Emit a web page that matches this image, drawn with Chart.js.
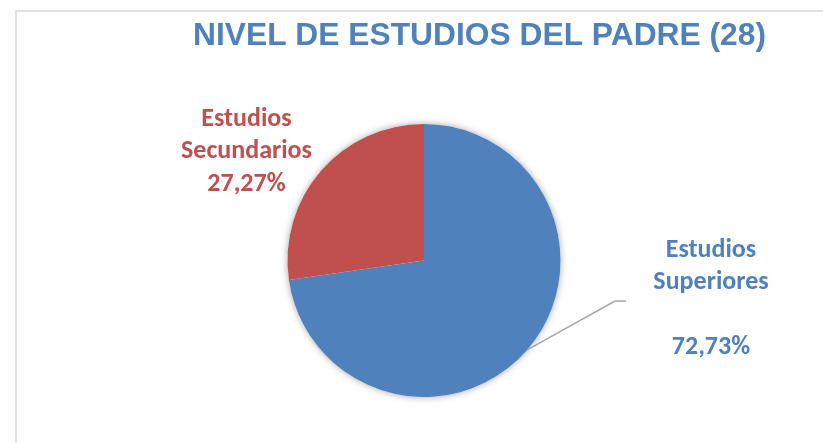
<!DOCTYPE html>
<html>
<head>
<meta charset="utf-8">
<script src="https://cdn.jsdelivr.net/npm/chart.js@4/dist/chart.umd.min.js"></script>
<style>
  html, body { margin: 0; padding: 0; background: #fff; }
  #wrap { width: 823px; height: 443px; }
</style>
</head>
<body>
<div id="wrap"><canvas id="PIE1"></canvas></div>
<script>
// data
const categories = ['Estudios Superiores', 'Estudios Secundarios'];
const percentages = [72.73, 27.27];
const sliceColors = ['#4F81BD', '#C0504D'];
const chartTitle = 'NIVEL DE ESTUDIOS DEL PADRE (28)';

const PIE1 = document.getElementById('PIE1').getContext('2d');
const labelFont = 'bold 26px Carlito, Lato, "Open Sans", sans-serif';
const titleFont = 'bold 32px "Liberation Sans", Arial, sans-serif';

function pct(v) {
    return v.toFixed(2).replace('.', ',') + '%';
}

// frame lines (top + left) like the Excel chart area
const framePlugin = {
    id: 'frame',
    beforeDraw(chart) {
        const ctx = chart.ctx;
        ctx.save();
        ctx.strokeStyle = '#D9D9D9';
        ctx.lineWidth = 1.5;
        ctx.beginPath();
        ctx.moveTo(823, 11);
        ctx.lineTo(16, 11);
        ctx.lineTo(16, 443);
        ctx.stroke();
        ctx.restore();
    }
};

// title, Arial Narrow look (squeezed Liberation Sans bold)
const titlePlugin = {
    id: 'narrowTitle',
    afterDraw(chart) {
        const ctx = chart.ctx;
        ctx.save();
        ctx.font = titleFont;
        ctx.fillStyle = '#4F81BD';
        ctx.textAlign = 'left';
        ctx.textBaseline = 'alphabetic';
        const w = ctx.measureText(chartTitle).width;
        const sx = 573 / w;
        ctx.translate(193, 45);
        ctx.scale(sx, 1);
        ctx.fillText(chartTitle, 0, 0);
        ctx.restore();
    }
};

// soft shadow behind the pie
const shadowPlugin = {
    id: 'pieShadow',
    beforeDatasetsDraw(chart) {
        const arc = chart.getDatasetMeta(0).data[0];
        const ctx = chart.ctx;
        ctx.save();
        ctx.shadowColor = 'rgba(0,0,0,0.35)';
        ctx.shadowBlur = 7;
        ctx.fillStyle = '#fff';
        ctx.beginPath();
        ctx.arc(arc.x, arc.y, arc.outerRadius, 0, Math.PI * 2);
        ctx.fill();
        ctx.restore();
    }
};

// labels outside the slices
const labelPlugin = {
    id: 'sliceLabels',
    afterDatasetsDraw(chart) {
        const ctx = chart.ctx;
        const meta = chart.getDatasetMeta(0);
        ctx.save();
        ctx.font = labelFont;
        ctx.textAlign = 'center';
        ctx.textBaseline = 'middle';

        // Estudios Superiores - with leader line
        const a0 = meta.data[0];
        const mid0 = (a0.startAngle + a0.endAngle) / 2;
        const sx = a0.x + a0.outerRadius * Math.cos(mid0);
        const sy = a0.y + a0.outerRadius * Math.sin(mid0);
        ctx.strokeStyle = '#A6A6A6';
        ctx.lineWidth = 1.5;
        ctx.beginPath();
        ctx.moveTo(sx, sy);
        ctx.lineTo(615, 301);
        ctx.lineTo(626, 301);
        ctx.stroke();

        const w0 = categories[0].split(' ');
        ctx.fillStyle = sliceColors[0];
        ctx.fillText(w0[0], 711, 250);
        ctx.fillText(w0[1], 711, 282.5);
        ctx.fillText(pct(percentages[0]), 711, 347.5);

        // Estudios Secundarios
        const w1 = categories[1].split(' ');
        ctx.fillStyle = sliceColors[1];
        ctx.fillText(w1[0], 246.5, 119);
        ctx.fillText(w1[1], 246.5, 151.5);
        ctx.fillText(pct(percentages[1]), 246.5, 184);
        ctx.restore();
    }
};

const Pie1 = new Chart(PIE1, {
    type: 'pie',
    data: {
        labels: categories,
        datasets: [{
            data: percentages,
            backgroundColor: sliceColors,
            borderWidth: 0,
            hoverOffset: 0
        }]
    },
    options: {
        responsive: true,
        maintainAspectRatio: false,
        animation: false,
        radius: 136.5,
        layout: {
            padding: { left: 80, right: 55, top: 124, bottom: 46 }
        },
        plugins: {
            legend: { display: false },
            tooltip: { enabled: false },
            title: { display: false }
        }
    },
    plugins: [framePlugin, titlePlugin, shadowPlugin, labelPlugin]
});
</script>
</body>
</html>
